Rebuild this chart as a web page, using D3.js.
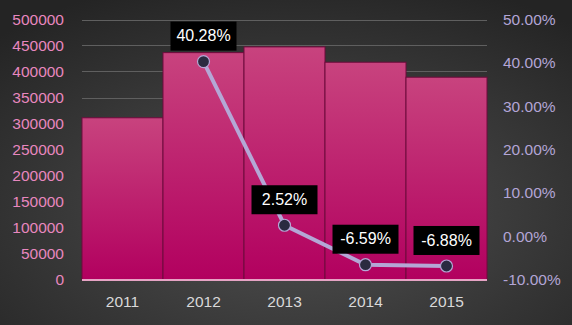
<!DOCTYPE html>
<html><head><meta charset="utf-8">
<script src="https://cdn.jsdelivr.net/npm/d3@7"></script>
<style>html,body{margin:0;padding:0;background:#2b2b2b;}svg{display:block;}</style>
</head><body>
<script>
const years = ["2011","2012","2013","2014","2015"];
const sales = [311000, 436300, 447300, 417800, 389000];
const growth = [null, 0.4028, 0.0252, -0.0659, -0.0688];
const leftTicks = [0,50000,100000,150000,200000,250000,300000,350000,400000,450000,500000];
const rightTicks = [-0.1,0,0.1,0.2,0.3,0.4,0.5];

const W=572,H=325;
const svg=d3.select("body").append("svg").attr("width",W).attr("height",H);
const defs=svg.append("defs");
const bg=defs.append("radialGradient").attr("id","bg").attr("cx","52%").attr("cy","65%").attr("r","75%");
bg.append("stop").attr("offset","0%").attr("stop-color","#515151");
bg.append("stop").attr("offset","100%").attr("stop-color","#242424");
const bg2=defs.append("linearGradient").attr("id","bar").attr("x1",0).attr("y1",0).attr("x2",0).attr("y2",1);
bg2.append("stop").attr("offset","0%").attr("stop-color","#c8437e");
bg2.append("stop").attr("offset","100%").attr("stop-color","#b2005f");
svg.append("rect").attr("width",W).attr("height",H).attr("fill","url(#bg)");

const x=d3.scaleBand().domain(years).range([82,487]).padding(0);
const yL=d3.scaleLinear().domain([0,500000]).range([279.5,19.5]);
const yR=d3.scaleLinear().domain([-0.1,0.5]).range([279.5,19.5]);
const font="'Liberation Sans', Arial, sans-serif";
const pct=v=>d3.format(".2%")(v).replace("\u2212","-");

// grid
svg.append("g").selectAll("line").data(leftTicks.slice(1)).join("line")
 .attr("x1",82).attr("x2",487).attr("y1",d=>Math.round(yL(d))+0.5).attr("y2",d=>Math.round(yL(d))+0.5)
 .attr("stroke","#5f5f5f").attr("stroke-width",1);

// bars
svg.append("g").selectAll("rect").data(sales).join("rect")
 .attr("x",(d,i)=>x(years[i])).attr("width",x.bandwidth())
 .attr("y",d=>yL(d)).attr("height",d=>yL(0)-yL(d))
 .attr("fill","url(#bar)").attr("stroke","#6e0b3c").attr("stroke-width",1);

// x axis line
svg.append("line").attr("x1",82).attr("x2",487).attr("y1",280).attr("y2",280)
 .attr("stroke","#e6a3c4").attr("stroke-width",2);

// left axis
const la=svg.append("g").attr("transform","translate(70,0)")
 .call(d3.axisLeft(yL).tickValues(leftTicks).tickSize(0).tickPadding(5).tickFormat(d3.format("d")));
la.select(".domain").remove();
la.selectAll("text").attr("fill","#e887bf").attr("font-size","15.5px").attr("font-family",font).attr("x",-6);

// right axis
const ra=svg.append("g").attr("transform","translate(498,0)")
 .call(d3.axisRight(yR).tickValues(rightTicks).tickSize(0).tickPadding(5).tickFormat(pct));
ra.select(".domain").remove();
ra.selectAll("text").attr("fill","#b3a5d6").attr("font-size","15.5px").attr("font-family",font);

// bottom axis
const ba=svg.append("g").attr("transform","translate(0,281)")
 .call(d3.axisBottom(x).tickSize(0).tickPadding(15));
ba.select(".domain").remove();
ba.selectAll("text").attr("fill","#d9d9d9").attr("font-size","15.5px").attr("font-family",font);

// line
const pts=growth.map((g,i)=>({g,yr:years[i]})).filter(d=>d.g!==null);
const cx=d=>x(d.yr)+x.bandwidth()/2;
svg.append("path").datum(pts)
 .attr("d",d3.line().x(cx).y(d=>yR(d.g)))
 .attr("fill","none").attr("stroke","#b4a7d6").attr("stroke-width",4);
svg.append("g").selectAll("circle").data(pts).join("circle")
 .attr("cx",cx).attr("cy",d=>yR(d.g)).attr("r",6)
 .attr("fill","#2a2a40").attr("stroke","#b4a7d6").attr("stroke-width",1.2);

// labels
const lg=svg.append("g").selectAll("g").data(pts).join("g")
 .attr("transform",d=>`translate(${cx(d)},${yR(d.g)-26})`);
lg.append("rect").attr("x",-33).attr("y",-14).attr("width",66).attr("height",29).attr("fill","#000");
lg.append("text").attr("text-anchor","middle").attr("dy","0.36em")
 .attr("fill","#fff").attr("font-size","16px").attr("font-family",font)
 .text(d=>pct(d.g));
</script>
</body></html>
